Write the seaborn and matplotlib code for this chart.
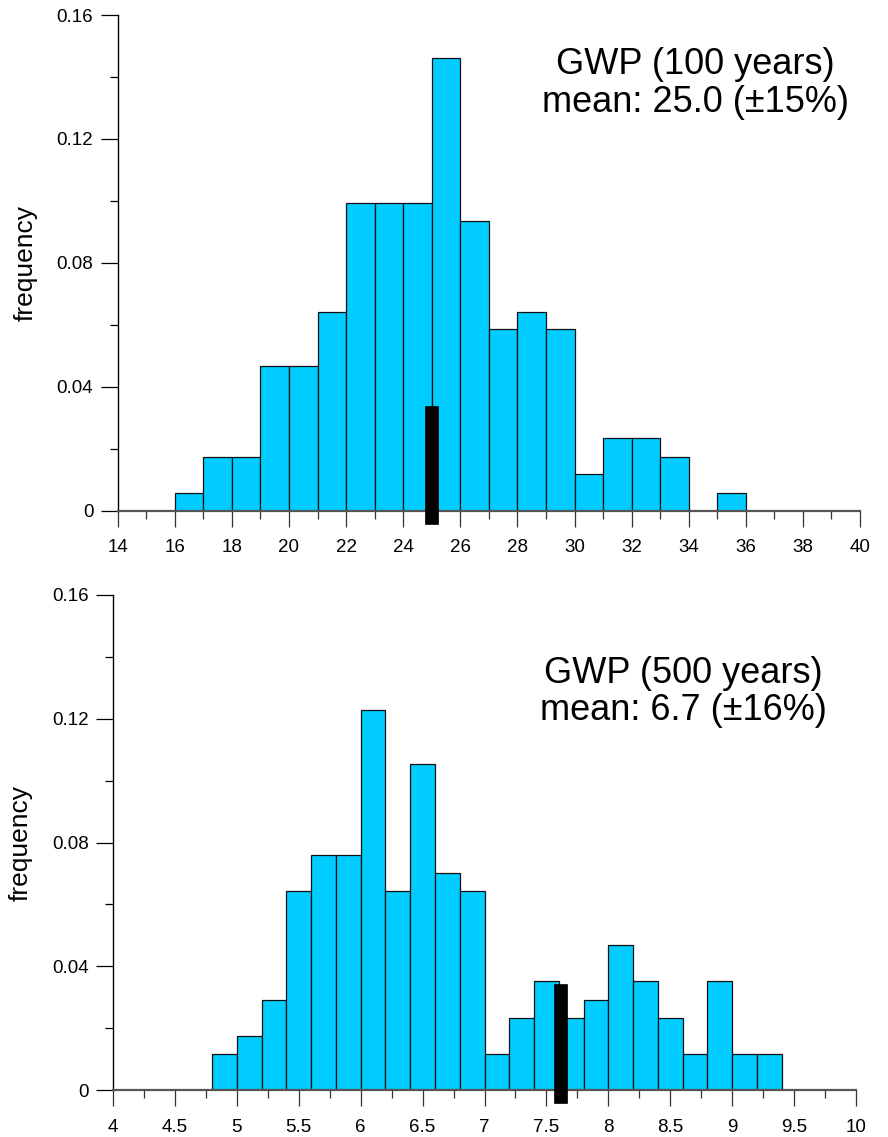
import numpy as np
import pandas as pd
import matplotlib
matplotlib.use("Agg")
import matplotlib.pyplot as plt
from matplotlib.ticker import FixedLocator, MultipleLocator, FuncFormatter
import seaborn as sns

# ---------------- data ----------------
# GWP (100 years): bins of width 1 from 16 to 36
gwp100_bin_left = [16, 17, 18, 19, 20, 21, 22, 23, 24, 25,
                   26, 27, 28, 29, 30, 31, 32, 33, 34, 35]
gwp100_bin_width = 1.0
gwp100_freq = [0.0058, 0.0175, 0.0175, 0.0468, 0.0468, 0.0643, 0.0994, 0.0994, 0.0994, 0.1462,
               0.0936, 0.0585, 0.0643, 0.0585, 0.0117, 0.0234, 0.0234, 0.0175, 0.0, 0.0058]
gwp100_marker_x = [25.0]
gwp100_marker_top = [0.0338]
gwp100_title = "GWP (100 years)\nmean: 25.0 (\u00b115%)"
gwp100_xticks = [14, 16, 18, 20, 22, 24, 26, 28, 30, 32, 34, 36, 38, 40]

# GWP (500 years): bins of width 0.2 from 4.8 to 9.4
gwp500_bin_left = [4.8, 5.0, 5.2, 5.4, 5.6, 5.8, 6.0, 6.2, 6.4, 6.6, 6.8, 7.0,
                   7.2, 7.4, 7.6, 7.8, 8.0, 8.2, 8.4, 8.6, 8.8, 9.0, 9.2]
gwp500_bin_width = 0.2
gwp500_freq = [0.0117, 0.0175, 0.0292, 0.0643, 0.0760, 0.0760, 0.1228, 0.0643, 0.1053, 0.0702, 0.0643, 0.0117,
               0.0234, 0.0351, 0.0234, 0.0292, 0.0468, 0.0351, 0.0234, 0.0117, 0.0351, 0.0117, 0.0117]
gwp500_marker_x = [7.61]
gwp500_marker_top = [0.0344]
gwp500_title = "GWP (500 years)\nmean: 6.7 (\u00b116%)"
gwp500_xticks = [4, 4.5, 5, 5.5, 6, 6.5, 7, 7.5, 8, 8.5, 9, 9.5, 10]

yticks = [0, 0.04, 0.08, 0.12, 0.16]
ylabel = "frequency"

# ---------------- style ----------------
sns.set_style("ticks")
plt.rcParams["font.family"] = ["Liberation Sans", "DejaVu Sans"]
plt.rcParams["text.color"] = "black"
plt.rcParams["axes.labelcolor"] = "black"
plt.rcParams["xtick.color"] = "black"
plt.rcParams["ytick.color"] = "black"

BAR_COLOR = "#00CCFF"
EDGE_COLOR = "#111111"
AXIS_GRAY = "#555555"

fig = plt.figure(figsize=(8.88, 11.37), dpi=100)
ax1 = fig.add_axes([0.1325, 0.5508, 0.836, 0.436])
ax2 = fig.add_axes([0.1273, 0.0413, 0.8367, 0.4354])


def yfmt(v, pos):
    return "0" if abs(v) < 1e-12 else f"{v:.2f}"


def draw(ax, left, width, freq, mx, mtop, title, xticks, xminor, marker_w, text_xy, label_x):
    left = [float(v) for v in left]
    edges = left + [left[-1] + width]
    centers = [v + width / 2.0 for v in left]
    df = pd.DataFrame({"x": centers, "w": freq})
    sns.histplot(data=df, x="x", weights="w", bins=edges, stat="count",
                 color=BAR_COLOR, edgecolor=EDGE_COLOR, linewidth=0.9,
                 alpha=1.0, ax=ax)
    # mean marker (black thick bar extending slightly below the axis)
    ax.bar(mx, [t + 0.0042 for t in mtop], bottom=-0.0042, width=marker_w,
           color="black", edgecolor="black", linewidth=0.5, zorder=5, clip_on=False)

    ax.set_xlim(xticks[0], xticks[-1])
    ax.set_ylim(0, 0.16)
    ax.xaxis.set_major_locator(FixedLocator(xticks))
    ax.xaxis.set_minor_locator(MultipleLocator(xminor))
    ax.set_xticklabels([f"{t:g}" for t in xticks])
    ax.yaxis.set_major_locator(FixedLocator(yticks))
    ax.yaxis.set_minor_locator(MultipleLocator(0.02))
    ax.yaxis.set_major_formatter(FuncFormatter(yfmt))

    for s in ("top", "right"):
        ax.spines[s].set_visible(False)
    ax.spines["left"].set_color("black")
    ax.spines["left"].set_linewidth(1.0)
    ax.spines["bottom"].set_color(AXIS_GRAY)
    ax.spines["bottom"].set_linewidth(1.6)

    ax.tick_params(axis="x", which="major", length=11.5, width=0.9, color="#333333",
                   labelsize=13.5, pad=9, labelcolor="black")
    ax.tick_params(axis="x", which="minor", length=5.8, width=0.9, color="#333333")
    ax.tick_params(axis="y", which="major", length=12.5, width=0.9, color="black",
                   labelsize=13.5, pad=5, labelcolor="black")
    ax.tick_params(axis="y", which="minor", length=5.8, width=0.9, color="black")

    ax.set_xlabel("")
    ax.set_ylabel(ylabel, fontsize=19, color="black")
    ax.yaxis.set_label_coords(label_x, 0.5)
    ax.grid(False)

    ax.text(text_xy[0], text_xy[1], title, transform=ax.transAxes, color="black",
            ha="center", va="center", fontsize=26, linespacing=1.1)


draw(ax1, gwp100_bin_left, gwp100_bin_width, gwp100_freq, gwp100_marker_x, gwp100_marker_top,
     gwp100_title, gwp100_xticks, 1.0, 0.44, (0.778, 0.862), -0.108)
draw(ax2, gwp500_bin_left, gwp500_bin_width, gwp500_freq, gwp500_marker_x, gwp500_marker_top,
     gwp500_title, gwp500_xticks, 0.25, 0.105, (0.768, 0.804), -0.108)

fig.savefig("out.png", dpi=100)
